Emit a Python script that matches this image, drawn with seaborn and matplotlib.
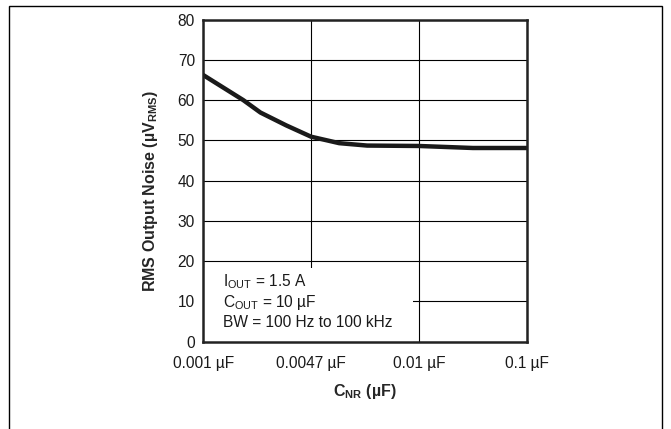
import matplotlib
matplotlib.use("Agg")
import matplotlib.pyplot as plt
from matplotlib.patches import Rectangle
import seaborn as sns
import pandas as pd

# Curve (x = position along the equally spaced C_NR axis)
cnr_pos = [0.0, 0.37, 0.53, 0.77, 1.0, 1.26, 1.52, 2.0, 2.5, 3.0]
noise_uv = [66.2, 60.0, 56.9, 53.7, 50.9, 49.3, 48.7, 48.6, 48.1, 48.1]
tick_labels = ["0.001 µF", "0.0047 µF", "0.01 µF", "0.1 µF"]
y_ticks = [0, 10, 20, 30, 40, 50, 60, 70, 80]
conditions = [r"$\mathregular{I_{OUT}}$ = 1.5 A",
              r"$\mathregular{C_{OUT}}$ = 10 µF",
              "BW = 100 Hz to 100 kHz"]

df = pd.DataFrame({"cnr": cnr_pos, "noise": noise_uv})

sns.set_theme(style="white")
plt.rcParams["font.family"] = ["Liberation Sans", "DejaVu Sans"]
plt.rcParams["mathtext.fontset"] = "custom"
plt.rcParams["mathtext.rm"] = "Liberation Sans"
plt.rcParams["mathtext.bf"] = "Liberation Sans:bold"
plt.rcParams["mathtext.it"] = "Liberation Sans:italic"

fig = plt.figure(figsize=(6.71, 4.29), dpi=100)
ax = fig.add_axes([0.303, 0.2035, 0.482, 0.751])

sns.lineplot(data=df, x="cnr", y="noise", color="#1a1a1a", linewidth=3.2, ax=ax, zorder=4)

ax.set_xlim(0, 3)
ax.set_ylim(0, 80)
ax.set_xticks(range(len(tick_labels)))
ax.set_xticklabels(tick_labels)
ax.set_yticks(y_ticks)
ax.grid(True, color="black", linewidth=0.8)
ax.set_axisbelow(True)
ax.tick_params(axis="both", direction="in", length=3, width=0.8, color="black",
               labelsize=11.2, labelcolor="#1a1a1a", pad=6)
ax.tick_params(axis="x", pad=10)

for sp in ax.spines.values():
    sp.set_visible(True)
    sp.set_color("#222222")
    sp.set_linewidth(1.8)
    sp.set_zorder(5)

# white box behind the test conditions
ax.add_patch(Rectangle((0, 0), 1.945, 18.3, facecolor="white", edgecolor="none", zorder=1.5))
for i, line in enumerate(conditions):
    ax.text(0.18, 14.9 - i * 5.1, line, fontsize=11.2, color="#1a1a1a", va="center", zorder=3)

ax.set_xlabel(r"$\mathbf{C_{NR}}$ (µF)", fontsize=11.5, fontweight="bold", labelpad=8)
ax.set_ylabel(r"RMS Output Noise (µ$\mathbf{V_{RMS}}$)", fontsize=11.5, fontweight="bold")
ax.yaxis.set_label_coords(-0.133, 0.469)

# outer frame of the figure
fig.patches.append(Rectangle((8.5 / 671, -0.1), 653.5 / 671, 1.1 - 6 / 429,
                             transform=fig.transFigure, fill=False,
                             edgecolor="black", linewidth=1.0))

fig.savefig("out.png", dpi=100)
